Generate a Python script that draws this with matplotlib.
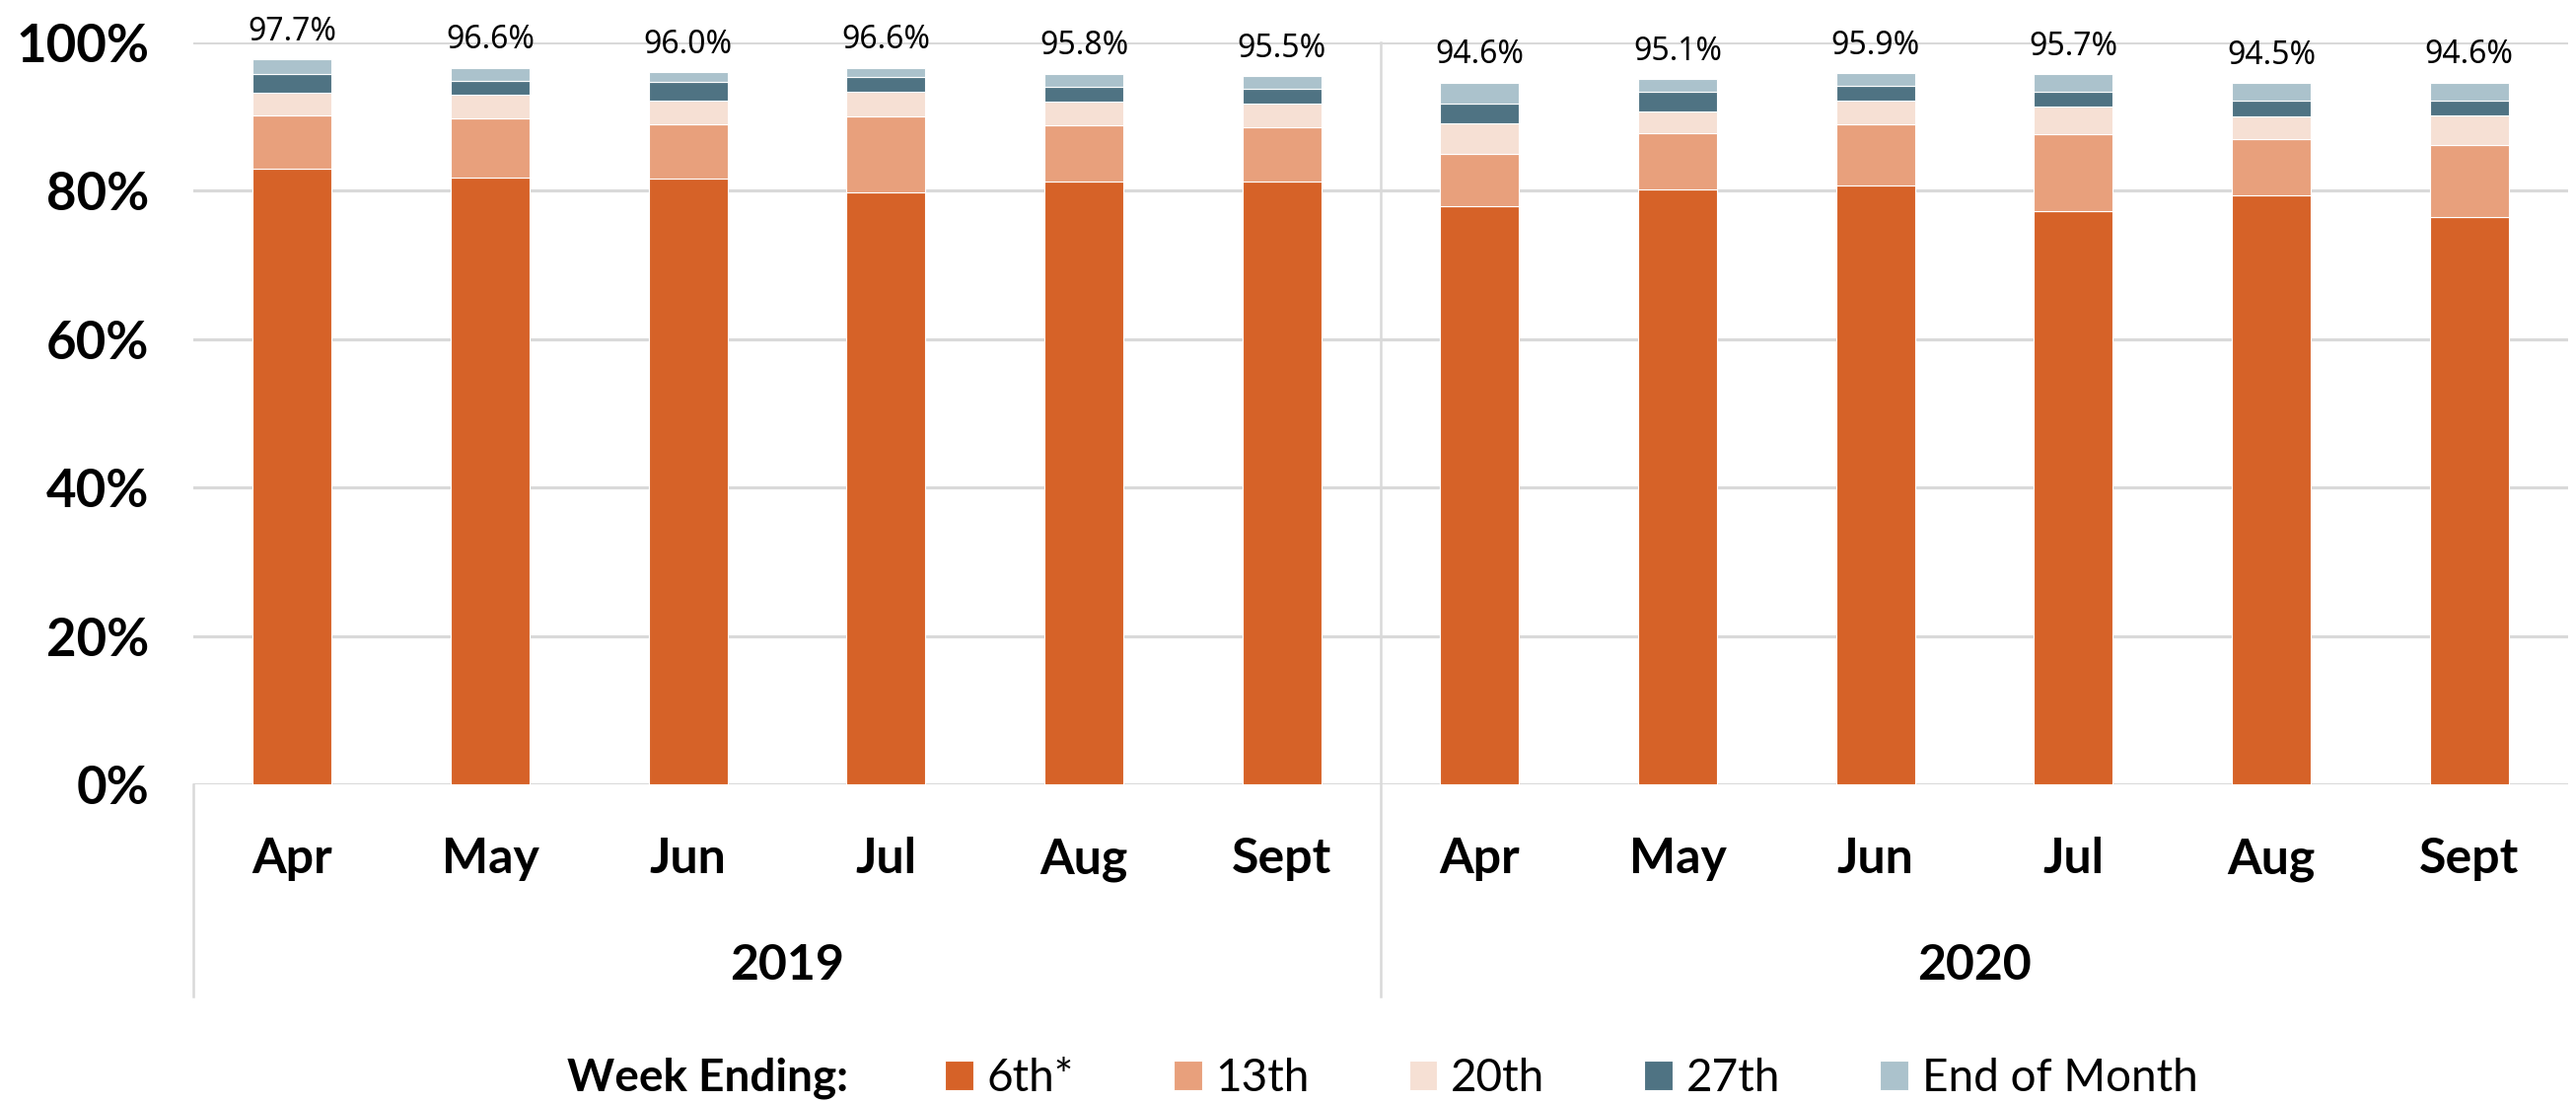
import numpy as np
import matplotlib.pyplot as plt
from matplotlib.ticker import FuncFormatter

# Data (percent of returns by week ending)
months = ['Apr', 'May', 'Jun', 'Jul', 'Aug', 'Sept'] * 2
years = ['2019', '2020']
series_names = ['6th*', '13th', '20th', '27th', 'End of Month']
week_6th = [83.0, 81.8, 81.6, 79.8, 81.2, 81.2, 77.9, 80.2, 80.7, 77.3, 79.4, 76.4]
week_13th = [7.2, 8.0, 7.4, 10.2, 7.6, 7.4, 7.1, 7.6, 8.3, 10.3, 7.6, 9.8]
week_20th = [3.0, 3.1, 3.2, 3.3, 3.2, 3.1, 4.1, 2.9, 3.2, 3.8, 3.0, 4.0]
week_27th = [2.6, 1.9, 2.5, 2.1, 2.0, 2.1, 2.7, 2.7, 2.0, 2.0, 2.2, 2.0]
end_of_month = [1.9, 1.8, 1.3, 1.2, 1.8, 1.7, 2.8, 1.7, 1.7, 2.3, 2.3, 2.4]
totals = [97.7, 96.6, 96.0, 96.6, 95.8, 95.5, 94.6, 95.1, 95.9, 95.7, 94.5, 94.6]

colors = ['#D66228', '#E8A07C', '#F6E0D4', '#4F7383', '#ABC2CC']
grid_col = '#D9D9D9'
bold_font = 'Lato'

fig = plt.figure(figsize=(26.12, 11.18), dpi=100)
ax = fig.add_axes([196 / 2612, 323 / 1118, 2408 / 2612, 752 / 1118])

x = np.arange(len(months))
bottom = np.zeros(len(months))
for name, vals, c in zip(series_names,
                         [week_6th, week_13th, week_20th, week_27th, end_of_month],
                         colors):
    ax.bar(x, vals, width=0.4, bottom=bottom, color=c, label=name,
           edgecolor='white', linewidth=0.8, zorder=3)
    bottom += np.array(vals)

# total labels above each bar
for xi, top, t in zip(x, bottom, totals):
    ax.annotate(f'{t:.1f}%', (xi, top), xytext=(0, 8), textcoords='offset points',
                ha='center', va='bottom', fontsize=23, family='Noto Sans',
                annotation_clip=False)

ax.set_xlim(-0.5, len(months) - 0.5)
ax.set_ylim(0, 100)
ax.set_yticks(np.arange(0, 101, 20))
ax.yaxis.set_major_formatter(FuncFormatter(lambda v, p: f'{v:.0f}%'))
ax.tick_params(axis='y', length=0, pad=32, labelsize=38)
for lab in ax.get_yticklabels():
    lab.set_fontfamily(bold_font)
    lab.set_fontweight('bold')
ax.set_xticks([])
ax.grid(axis='y', color=grid_col, linewidth=2.2, zorder=0)
for s in ax.spines.values():
    s.set_visible(False)

# month and year labels
trans = ax.get_xaxis_transform()
for xi, m in zip(x, months):
    ax.text(xi, -0.1197, m, transform=trans, ha='center', va='baseline',
            fontsize=36, fontweight='bold', family=bold_font)
for i, yr in enumerate(years):
    ax.text(2.5 + 6 * i, -0.263, yr, transform=trans, ha='center', va='baseline',
            fontsize=36, fontweight='bold', family=bold_font)

# group separators
ax.plot([5.5, 5.5], [-0.286, 1], transform=trans, color=grid_col, lw=1.8, clip_on=False, zorder=1)
ax.plot([-0.5, -0.5], [-0.286, 0], transform=trans, color=grid_col, lw=1.8, clip_on=False, zorder=1)

# legend
fig.text(575 / 2612, 1 - 1093 / 1118, 'Week Ending:', ha='left', va='center',
         fontsize=33, fontweight='bold', family=bold_font)
handles, labels = ax.get_legend_handles_labels()
fig.legend(handles, labels, loc='center left', bbox_to_anchor=(958 / 2612, 1 - 1093 / 1118),
           ncol=5, frameon=False, prop={'family': bold_font, 'size': 33},
           handlelength=0.63, handleheight=0.62, handletextpad=0.3,
           columnspacing=2.2, borderpad=0, borderaxespad=0)

plt.savefig('out.png', dpi=100)
